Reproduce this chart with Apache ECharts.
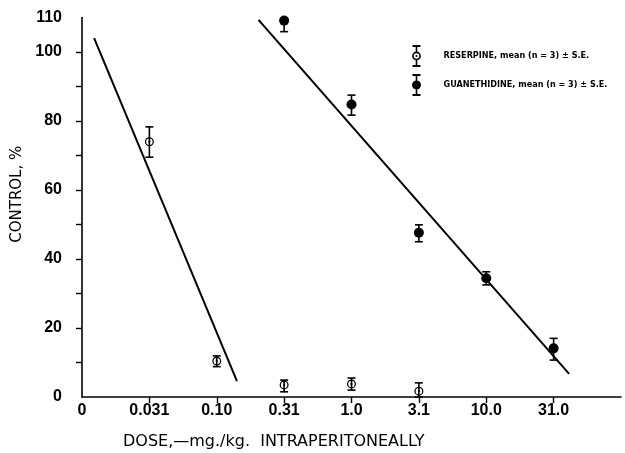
<!DOCTYPE html>
<html>
<head>
<meta charset="utf-8">
<script src="https://cdn.jsdelivr.net/npm/echarts@6/dist/echarts.min.js"></script>
<style>
html,body{margin:0;padding:0;background:#fff;}
#chart{width:625px;height:453px;}
</style>
</head>
<body>
<div id="chart"></div>
<script>
// ---- data ----
const doseLabels = ['0', '0.031', '0.10', '0.31', '1.0', '3.1', '10.0', '31.0'];
const yTickLabels = [0, 20, 40, 60, 80, 100, 110];

const reserpineX    = [1, 2, 3, 4, 5];
const reserpineMean = [74.0, 10.4, 3.5, 3.8, 1.7];
const reserpineLow  = [69.5, 8.8, 1.5, 2.0, 0.0];
const reserpineHigh = [78.3, 11.9, 4.9, 5.5, 4.1];

const guanX    = [3, 4, 5, 6, 7];
const guanMean = [109.1, 84.8, 47.6, 34.4, 14.1];
const guanLow  = [105.9, 81.7, 45.0, 32.5, 10.7];
const guanHigh = [109.1, 87.5, 49.9, 36.3, 17.0];

const reserpineFitX = [0.18, 2.30];
const reserpineFitY = [104.0, 4.6];
const guanFitX = [2.62, 7.23];
const guanFitY = [109.3, 6.7];

const reserpineName = 'RESERPINE, mean (n = 3) \u00B1 S.E.';
const guanName = 'GUANETHIDINE, mean (n = 3) \u00B1 S.E.';

// ---- build ----
const zip = (a, b) => a.map((v, i) => [v, b[i]]);
const zip3 = (a, b, c) => a.map((v, i) => [v, b[i], c[i]]);

const ringPath = 'path://M0,10 A10,10 0 1,1 20,10 A10,10 0 1,1 0,10 Z M2.8,10 A7.2,7.2 0 1,0 17.2,10 A7.2,7.2 0 1,0 2.8,10 Z M7.6,10 A2.4,2.4 0 1,1 12.4,10 A2.4,2.4 0 1,1 7.6,10 Z';
const legendOpen = 'path://M1,0 H9 V2 H1 Z M4.2,2 H5.8 V6.6 H4.2 Z M4.2,15.4 H5.8 V20 H4.2 Z M1,20 H9 V22 H1 Z M0.6,11 A4.4,4.4 0 1,1 9.4,11 A4.4,4.4 0 1,1 0.6,11 Z M2.2,11 A2.8,2.8 0 1,0 7.8,11 A2.8,2.8 0 1,0 2.2,11 Z M4,11 A1,1 0 1,1 6,11 A1,1 0 1,1 4,11 Z';
const legendFilled = 'path://M1,0 H9 V2 H1 Z M4.2,2 H5.8 V20 H4.2 Z M1,20 H9 V22 H1 Z M0.5,11 A4.5,4.5 0 1,1 9.5,11 A4.5,4.5 0 1,1 0.5,11 Z';

function errRender(params, api) {
  const x = api.value(0), lo = api.value(1), hi = api.value(2);
  const pLo = api.coord([x, lo]);
  const pHi = api.coord([x, hi]);
  const hw = 4;
  const st = {stroke: '#000', lineWidth: 1.6};
  return {
    type: 'group',
    children: [
      {type: 'line', shape: {x1: pLo[0], y1: pLo[1], x2: pHi[0], y2: pHi[1]}, style: st},
      {type: 'line', shape: {x1: pLo[0] - hw, y1: pLo[1], x2: pLo[0] + hw, y2: pLo[1]}, style: st},
      {type: 'line', shape: {x1: pHi[0] - hw, y1: pHi[1], x2: pHi[0] + hw, y2: pHi[1]}, style: st}
    ]
  };
}

const chart = echarts.init(document.getElementById('chart'), null, {renderer: 'canvas'});
const font = "'Liberation Sans', Arial, sans-serif";
const wide = "'DejaVu Sans', 'Liberation Sans', sans-serif";
const narrow = "'Liberation Sans Narrow', 'DejaVu Sans Condensed', sans-serif";

chart.setOption({
  backgroundColor: '#fff',
  animation: false,
  textStyle: {fontFamily: font, color: '#000'},
  title: {
    text: 'DOSE,\u2014mg./kg.  INTRAPERITONEALLY',
    left: 118, top: 429,
    textStyle: {fontFamily: wide, fontSize: 16, fontWeight: 'normal', color: '#000'}
  },
  legend: {
    orient: 'vertical',
    left: 407, top: 40,
    itemWidth: 10, itemHeight: 22, itemGap: 7,
    selectedMode: false,
    textStyle: {fontFamily: narrow, fontSize: 9, fontWeight: 'bold', color: '#000', padding: [0, 0, 0, 17]},
    data: [
      {name: reserpineName, icon: legendOpen, itemStyle: {color: '#000', borderWidth: 0}},
      {name: guanName, icon: legendFilled, itemStyle: {color: '#000', borderWidth: 0}}
    ]
  },
  grid: {left: 82, right: 4, top: 17.5, bottom: 56, containLabel: false},
  xAxis: {
    type: 'value', min: 0, max: 8, interval: 1,
    splitLine: {show: false},
    axisLine: {lineStyle: {color: '#000', width: 1.6}},
    axisTick: {show: true, customValues: [1, 2, 3, 4, 5, 6, 7], length: 6, lineStyle: {color: '#000', width: 1.4}},
    axisLabel: {
      customValues: [0, 1, 2, 3, 4, 5, 6, 7],
      formatter: v => doseLabels[Math.round(v)] || '',
      fontFamily: font, fontSize: 16, fontWeight: 'bold', color: '#000', margin: 6
    }
  },
  yAxis: {
    type: 'value', min: 0, max: 110, interval: 10,
    splitLine: {show: false},
    axisLine: {show: true, lineStyle: {color: '#000', width: 1.6}},
    axisTick: {show: true, customValues: [10, 20, 30, 40, 50, 60, 70, 80, 90, 100], length: 6, lineStyle: {color: '#000', width: 1.4}},
    axisLabel: {
      customValues: yTickLabels,
      formatter: v => String(v),
      fontFamily: font, fontSize: 16, fontWeight: 'bold', color: '#000', margin: 20
    },
    name: 'CONTROL, %',
    nameLocation: 'middle',
    nameGap: 54,
    nameTextStyle: {fontFamily: wide, fontSize: 15, color: '#000', padding: [0, 0, 0, 26]}
  },
  series: [
    {
      name: 'resFit', type: 'line', data: zip(reserpineFitX, reserpineFitY),
      symbol: 'none', lineStyle: {color: '#000', width: 2}, z: 1, silent: true
    },
    {
      name: 'guanFit', type: 'line', data: zip(guanFitX, guanFitY),
      symbol: 'none', lineStyle: {color: '#000', width: 2}, z: 1, silent: true
    },
    {
      name: 'resErr', type: 'custom', renderItem: errRender,
      data: zip3(reserpineX, reserpineLow, reserpineHigh), z: 2, silent: true
    },
    {
      name: 'guanErr', type: 'custom', renderItem: errRender,
      data: zip3(guanX, guanLow, guanHigh), z: 2, silent: true
    },
    {
      name: reserpineName, type: 'scatter', data: zip(reserpineX, reserpineMean),
      symbol: ringPath, symbolSize: 9, itemStyle: {color: '#000', opacity: 1}, z: 3
    },
    {
      name: guanName, type: 'scatter', data: zip(guanX, guanMean),
      symbol: 'circle', symbolSize: 10, itemStyle: {color: '#000', opacity: 1}, z: 3
    }
  ]
});
</script>
</body>
</html>
